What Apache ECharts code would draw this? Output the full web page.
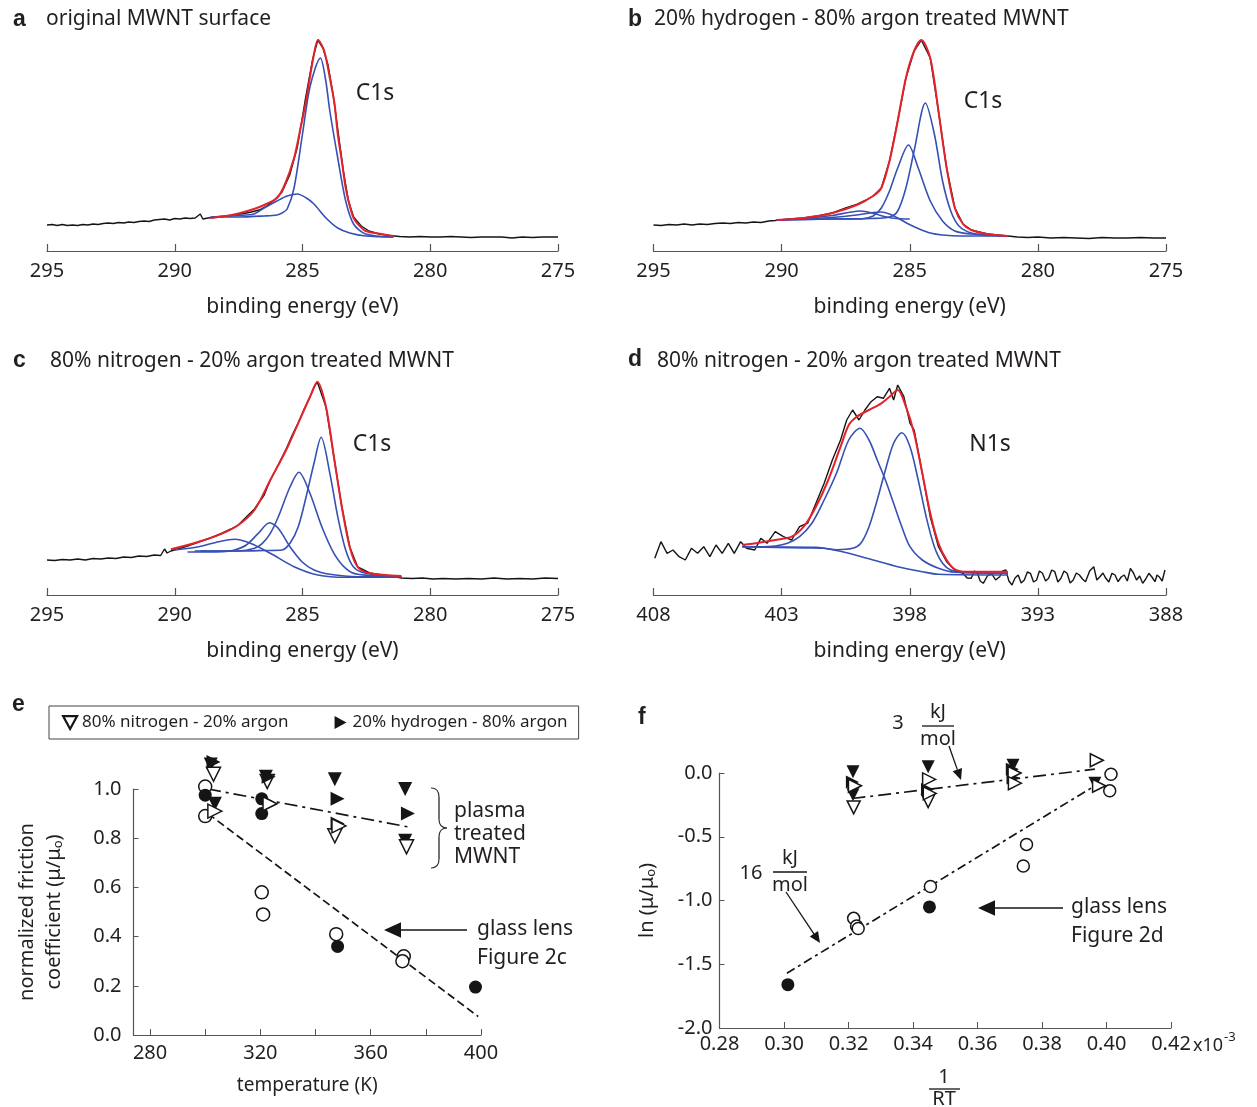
<!DOCTYPE html>
<html>
<head>
<meta charset="utf-8">
<script src="https://cdn.jsdelivr.net/npm/echarts@6/dist/echarts.min.js"></script>
<style>
  html, body { margin: 0; padding: 0; background: #fff; }
  #chart { width: 1257px; height: 1107px; }
</style>
</head>
<body>
<div id="chart"></div>
<script>
// XPS spectra: [binding energy (eV), intensity (a.u.)]
// panel a - original MWNT, C1s
const aBlack = [[295.0,26],[294.8,26.5],[294.6,25.5],[294.4,26.5],[294.2,25.5],[294.0,26],[293.8,25.5],[293.6,26.5],[293.4,26],[293.2,27],[293.0,26.5],[292.8,27.5],[292.6,28],[292.4,27.5],[292.2,28.5],[292.0,28],[291.8,29],[291.6,28.5],[291.4,29.5],[291.2,30],[291.0,29.5],[290.8,31],[290.6,31.5],[290.4,32],[290.2,31],[290.0,32.5],[289.8,32],[289.6,33],[289.4,32.5],[289.2,33],[289.0,37],[288.9,32],[288.7,33],[288.5,33.5],[288.2,34.5],[287.9,35],[287.6,36.5],[287.3,37.5],[287.0,39],[286.7,41],[286.4,45],[286.1,51],[285.8,59],[285.5,76],[285.2,104],[284.9,150],[284.6,192],[284.4,211],[284.2,203],[284.0,186],[283.8,156],[283.6,118],[283.4,80],[283.2,50],[283.0,34],[282.7,25],[282.4,20],[282.0,17],[281.6,15.5],[281.2,14.5],[280.8,14],[280.4,14.5],[280.0,14],[279.6,14],[279.2,14.5],[278.8,14],[278.4,13.5],[278.0,14],[277.6,14],[277.2,14],[276.8,13],[276.4,14],[276.0,13.5],[275.6,14],[275.2,14],[275.0,14]];
const aRed = [[288.6,33],[288.0,35],[287.5,37.5],[286.9,42],[286.5,46],[286.0,53],[285.7,66],[285.33,93],[285.1,120],[284.86,150],[284.6,190],[284.39,211],[284.15,200],[283.93,173],[283.75,148],[283.62,117],[283.45,88],[283.31,63],[283.15,45],[283.0,33],[282.8,26],[282.53,20],[281.9,17],[281.44,15]];
const aBlue1 = [[288.6,34],[287.5,34],[286.5,35],[286.0,36],[285.8,38],[285.6,42],[285.33,63],[285.0,117],[284.7,165],[284.3,193],[284.1,172],[283.93,140],[283.62,93],[283.31,50],[283.0,27],[282.53,17],[281.44,14]];
const aBlue2 = [[288.6,34],[287.5,35.5],[286.9,37],[286.5,43],[286.0,50],[285.6,55],[285.2,57],[284.85,53],[284.55,47],[284.08,33],[283.62,23],[283.15,18],[282.53,15],[281.44,14]];

// panel b - 20% H2 / 80% Ar, C1s
const bBlack = [[295.0,26],[294.7,25.5],[294.4,26.5],[294.1,26],[293.8,27],[293.5,26],[293.2,27],[292.9,26.5],[292.6,27.5],[292.3,28],[292.0,27.5],[291.7,28.5],[291.4,28],[291.1,29],[290.8,28.5],[290.5,30],[290.25,30.5],[289.7,32],[289.14,33],[288.6,35],[288.02,38],[287.5,43],[287.07,46.5],[286.7,51],[286.43,55],[286.11,63],[285.79,90],[285.47,130],[285.15,173],[284.83,200],[284.55,211],[284.2,193],[283.88,140],[283.56,83],[283.24,43],[282.92,27],[282.6,21],[281.97,17],[281.17,15],[280.8,14],[280.4,13.5],[280.0,14],[279.5,13],[279.0,13.5],[278.5,13],[278.0,12.5],[277.5,13.5],[277.0,13],[276.5,13],[276.0,13.5],[275.5,13],[275.0,13]];
const bRed = [[290.2,31],[289.14,33],[288.02,38],[287.07,46],[286.43,55],[286.11,63],[285.79,90],[285.47,130],[285.15,173],[284.83,200],[284.55,211],[284.2,193],[283.88,140],[283.56,83],[283.24,43],[282.92,27],[282.6,21],[281.97,17],[281.17,15]];
const bBlue1 = [[290.2,31],[288.0,32],[286.5,32.5],[285.79,34],[285.47,40],[285.15,63],[284.83,100],[284.39,148],[284.04,117],[283.72,70],[283.4,40],[283.08,25],[282.6,18],[281.97,16],[281.17,15]];
const bBlue2 = [[290.2,31],[288.0,32],[286.91,32],[286.43,35],[286.11,43],[285.79,60],[285.47,83],[285.05,106],[284.67,83],[284.2,50],[283.72,30],[283.24,20],[282.6,17],[281.17,15]];
const bBlue3 = [[290.2,31],[289.14,32.5],[288.02,35.5],[287.4,38.5],[286.9,40],[286.4,37.5],[285.9,34],[285.5,32.5],[285.0,32]];
const bBlue4 = [[290.2,31],[289.14,32],[288.02,33.5],[287.07,36],[286.43,38.5],[286.11,39],[285.79,37],[285.47,33],[285.05,27],[284.67,22.5],[284.2,18],[283.72,16],[283.0,15],[281.17,15]];

// panel c - 80% N2 / 20% Ar, C1s
const cBlack = [[295.0,35],[294.7,34.5],[294.4,35.5],[294.1,35],[293.8,36],[293.5,35],[293.2,36.5],[292.9,36],[292.6,37],[292.3,36.5],[292.0,38],[291.7,37.5],[291.4,39],[291.1,38.5],[290.8,40],[290.55,39.5],[290.4,46],[290.3,42],[290.15,44],[289.5,49],[289.06,53],[288.6,57],[288.13,62],[287.8,66],[287.51,70],[287.2,78],[286.88,86],[286.5,100],[286.26,115],[285.95,130],[285.64,146],[285.4,160],[285.17,172],[284.95,185],[284.71,198],[284.5,210],[284.42,213],[284.08,188],[283.77,138],[283.46,88],[283.15,48],[282.84,28],[282.37,22],[281.9,20],[281.5,19],[281.13,17],[280.7,16.5],[280.3,17],[279.9,16],[279.5,16.5],[279.0,16],[278.5,16.5],[278.0,16],[277.5,17],[277.0,16],[276.5,16.5],[276.0,16],[275.5,17],[275.0,16.5]];
const cRed = [[290.15,45.7],[289.06,53.3],[288.13,61.7],[287.51,70],[286.88,85],[286.26,115],[285.64,145],[285.17,171.7],[284.71,198],[284.42,213.3],[284.08,188],[283.77,138],[283.46,88],[283.15,48],[282.84,28],[282.37,21.7],[281.13,19]];
const cBlue1 = [[289.0,44],[287.5,44],[286.5,44.5],[285.8,45],[285.49,51.7],[285.17,68],[284.86,98],[284.55,131.7],[284.27,157.7],[283.93,121.7],[283.62,78.3],[283.31,45],[283.0,28],[282.53,21.7],[281.13,18.3]];
const cBlue2 = [[289.22,44],[287.51,44],[286.88,46.7],[286.57,51.7],[286.26,61.7],[285.95,78],[285.49,108],[285.14,122.7],[284.71,101.7],[284.24,68],[283.77,41.7],[283.31,26.7],[282.84,20.7],[281.13,18.3]];
const cBlue3 = [[289.5,43],[288.13,43.3],[287.66,45],[287.2,50],[286.73,61.7],[286.29,72.3],[285.95,66.7],[285.49,48.3],[285.02,33.3],[284.55,25],[283.93,20.7],[282.84,18.3],[281.13,18.3]];
const cBlue4 = [[290.0,45],[289.06,48.3],[288.28,53.3],[287.66,55.7],[287.04,51.7],[286.26,41.7],[285.33,28.3],[284.4,20],[283.31,17.7],[281.28,17.7]];

// panel d - 80% N2 / 20% Ar, N1s
const dBlack = [[407.95,36.7],[407.71,53.3],[407.47,41.7],[407.24,45],[407.0,38.3],[406.76,35],[406.52,46.7],[406.28,41.7],[406.04,48.3],[405.8,38.3],[405.56,50],[405.32,41.7],[405.08,51.7],[404.85,41.7],[404.6,53.3],[404.37,46.7],[404.05,45],[403.81,56.7],[403.57,51.7],[403.25,63.3],[402.93,58.3],[402.61,55],[402.3,68.3],[401.98,72],[401.66,91.7],[401.34,111.7],[401.02,135],[400.7,155],[400.46,175],[400.23,185],[399.98,175],[399.75,185],[399.51,193.3],[399.27,198.3],[399.03,196.7],[398.79,206.7],[398.63,195],[398.47,210],[398.23,198.3],[397.99,171.7],[397.83,165],[397.51,121.7],[397.2,78.3],[396.88,48.3],[396.56,33.3],[396.24,25],[395.92,21.7],[395.76,17],[395.6,16.7],[395.48,24],[395.36,21.7],[395.25,14],[395.13,11.7],[394.97,19],[394.81,21.7],[394.65,15],[394.49,18.3],[394.37,24],[394.25,25],[394.13,14],[394.01,10],[393.89,17],[393.77,20],[393.65,12],[393.53,15],[393.41,23],[393.29,21.7],[393.17,13],[393.05,15],[392.94,24],[392.82,21.7],[392.7,14],[392.58,16.7],[392.46,25],[392.34,23.3],[392.22,13],[392.1,16.7],[391.98,24],[391.86,21.7],[391.74,12],[391.62,15],[391.5,22],[391.38,20],[391.26,16],[391.14,13.3],[390.98,24],[390.82,28.3],[390.7,15],[390.58,18.3],[390.46,22],[390.35,16.7],[390.23,13],[390.11,21.7],[389.99,20],[389.87,13.3],[389.75,18],[389.63,20],[389.51,14],[389.39,26.7],[389.27,22],[389.15,15],[389.03,19],[388.91,11.7],[388.79,16],[388.67,21.7],[388.55,18],[388.43,13.3],[388.35,20],[388.27,18.3],[388.15,14],[388.04,25]];
const dRed = [[404.53,50],[403.89,52.3],[403.25,55],[402.61,58.3],[402.14,68.3],[401.66,88.3],[401.18,115],[400.7,148.3],[400.38,170],[400.07,178.3],[399.59,185],[399.11,191.7],[398.79,198.3],[398.47,205],[398.15,188.3],[397.83,161.7],[397.51,121.7],[397.2,81.7],[396.88,51.7],[396.56,35],[396.24,25.7],[395.76,23.3],[394.17,23.3]];
const dBlue1 = [[404.53,48.3],[403.89,48.3],[403.25,49],[402.77,51.7],[402.3,58.3],[401.82,71.7],[401.34,95],[400.86,121.7],[400.38,155],[399.94,166.7],[399.59,155],[399.27,135],[398.95,115],[398.63,91.7],[398.31,68.3],[397.99,48.3],[397.51,35],[396.88,26.7],[396.24,22.7],[394.17,21.7]];
const dBlue2 = [[404.53,48.3],[402.14,47],[401.34,46.7],[400.86,45.3],[400.23,46.7],[399.91,51.7],[399.59,68.3],[399.27,95],[398.95,125],[398.63,151.7],[398.31,162.3],[397.99,148.3],[397.67,115],[397.36,78.3],[397.04,48.3],[396.72,31.7],[396.4,25],[395.92,22.7],[394.17,21.7]];
const dBack = [[404.53,48.3],[401.66,47.7],[401.02,45.3],[400.38,41.7],[399.43,35],[398.47,28.3],[397.51,23.3],[396.88,20.7],[394.17,20]];

// panel e: [temperature (K), normalized friction coefficient]
const eGlassOpen = [[300,1.01],[300,0.89],[320.5,0.58],[321,0.49],[347.5,0.41],[372,0.32],[371.5,0.30]];
const eGlassFilled = [[300,0.975],[320.5,0.96],[320.5,0.90],[348,0.36],[398,0.195]];
const eN2Filled = [[302,1.10],[322,1.05],[347,1.04],[372.5,1.00],[303.5,0.94],[372.5,0.79]];
const eN2Open = [[303,1.06],[322.5,1.03],[347,0.81],[373,0.765]];
const eH2Filled = [[303,1.11],[323,1.05],[348,0.96],[348,0.86],[373.5,0.90]];
const eH2Open = [[303.5,0.91],[323.5,0.94],[348.5,0.85]];
const ePlasmaFit = [[301,1.0],[374,0.845]];
const eGlassFit = [[301,0.90],[399,0.075]];
const eTicks = [280,300,320,340,360,380,400];
const eLabels = [280,320,360,400];

// panel f: [1/RT (x10^-3 mol/J), ln(mu/mu0)]
const fGlassOpen = [[0.3216,-1.14],[0.3225,-1.20],[0.3230,-1.22],[0.3454,-0.89],[0.3752,-0.56],[0.3742,-0.73],[0.4014,-0.01],[0.4010,-0.14]];
const fGlassFilled = [[0.3012,-1.66],[0.3451,-1.05]];
const fN2Filled = [[0.3214,0.01],[0.3214,-0.17],[0.3447,0.05],[0.3710,0.06],[0.3964,-0.08]];
const fN2Open = [[0.3216,-0.27],[0.3447,-0.22]];
const fH2Filled = [[0.3212,-0.07],[0.3445,-0.13],[0.3710,-0.04],[0.3708,0.03]];
const fH2Open = [[0.3220,-0.10],[0.3450,-0.05],[0.3452,-0.16],[0.3715,0.00],[0.3716,-0.08],[0.3970,0.10],[0.3977,-0.10]];
const fPlasmaFit = [[0.3212,-0.20],[0.3964,0.03]];
const fGlassFit = [[0.3009,-1.57],[0.3964,-0.10]];
const fTicks = [0.28,0.30,0.32,0.34,0.36,0.38,0.40,0.42];

const FONT = "'Noto Sans', 'DejaVu Sans', sans-serif";
const INK = '#231f20';
const AXIS = '#555';
const RED = '#e4222a';
const BLUE = '#3650b4';
const BLACK = '#151515';

// the four spectra panels
const spectra = [
    { grid: { left: 47, top: 31, width: 511, height: 220 }, min: 275, max: 295, ticks: [275,280,285,290,295], black: aBlack, blue: [aBlue1, aBlue2], red: aRed },
    { grid: { left: 653.5, top: 31, width: 512.5, height: 220 }, min: 275, max: 295, ticks: [275,280,285,290,295], black: bBlack, blue: [bBlue1, bBlue2, bBlue3, bBlue4], red: bRed },
    { grid: { left: 47, top: 375, width: 511, height: 220 }, min: 275, max: 295, ticks: [275,280,285,290,295], black: cBlack, blue: [cBlue1, cBlue2, cBlue3, cBlue4], red: cRed },
    { grid: { left: 653.5, top: 375, width: 512.5, height: 220 }, min: 388, max: 408, ticks: [388,393,398,403,408], black: dBlack, blue: [dBlue1, dBlue2, dBack], red: dRed }
];

const grids = [];
const xAxes = [];
const yAxes = [];
const series = [];

function lineOf(idx, data, color, width, smooth, z) {
    return {
        type: 'line', xAxisIndex: idx, yAxisIndex: idx, data: data,
        symbol: 'none', smooth: smooth, clip: false, silent: true, z: z,
        lineStyle: { color: color, width: width }
    };
}

spectra.forEach(function (p, i) {
    grids.push(p.grid);
    xAxes.push({
        gridIndex: i, type: 'value', inverse: true, min: p.min, max: p.max,
        axisLine: { onZero: false, lineStyle: { color: AXIS, width: 1.2 } },
        axisTick: { inside: true, length: 7, customValues: p.ticks, lineStyle: { color: AXIS, width: 1.2 } },
        axisLabel: { customValues: p.ticks, fontSize: 20, color: INK, fontFamily: FONT, margin: 10 },
        splitLine: { show: false },
        name: 'binding energy (eV)', nameLocation: 'middle', nameGap: 46,
        nameTextStyle: { fontSize: 21, color: INK, fontFamily: FONT }
    });
    yAxes.push({ gridIndex: i, type: 'value', min: 0, max: 220, show: false });
    series.push(lineOf(i, p.black, BLACK, 1.4, false, 2));
    p.blue.forEach(function (b) { series.push(lineOf(i, b, BLUE, 1.6, 0.3, 3)); });
    series.push(lineOf(i, p.red, RED, 2, 0.3, 4));
});

// panel e: friction vs temperature
grids.push({ left: 133.5, top: 789, width: 347.5, height: 246 });
xAxes.push({
    gridIndex: 4, type: 'value', min: 274, max: 400,
    axisLine: { onZero: false, lineStyle: { color: AXIS, width: 1.2 } },
    axisTick: { inside: true, length: 6, customValues: eTicks, lineStyle: { color: AXIS } },
    axisLabel: { customValues: eLabels, fontSize: 20, color: INK, fontFamily: FONT, margin: 8 },
    splitLine: { show: false },
    name: 'temperature (K)', nameLocation: 'middle', nameGap: 41,
    nameTextStyle: { fontSize: 19, color: INK, fontFamily: FONT }
});
yAxes.push({
    gridIndex: 4, type: 'value', min: 0, max: 1.0, interval: 0.2,
    axisLine: { show: true, onZero: false, lineStyle: { color: AXIS, width: 1.2 } },
    axisTick: { show: true, inside: true, length: 5, lineStyle: { color: AXIS } },
    axisLabel: { fontSize: 20, color: INK, fontFamily: FONT, margin: 12, formatter: function (v) { return v.toFixed(1); } },
    splitLine: { show: false },
    name: 'normalized friction\ncoefficient (\u03bc/\u03bc\u2092)', nameLocation: 'middle', nameGap: 66,
    nameTextStyle: { fontSize: 20, lineHeight: 27, color: INK, fontFamily: FONT }
});

// panel f: Arrhenius plot
grids.push({ left: 719.5, top: 773, width: 451.5, height: 255 });
xAxes.push({
    gridIndex: 5, type: 'value', min: 0.28, max: 0.42,
    axisLine: { onZero: false, lineStyle: { color: AXIS, width: 1.2 } },
    axisTick: { inside: true, length: 6, customValues: fTicks, lineStyle: { color: AXIS } },
    axisLabel: { customValues: fTicks, fontSize: 20, color: INK, fontFamily: FONT, margin: 6, formatter: function (v) { return v.toFixed(2); } },
    splitLine: { show: false }
});
yAxes.push({
    gridIndex: 5, type: 'value', min: -2.0, max: 0.0, interval: 0.5,
    axisLine: { show: true, onZero: false, lineStyle: { color: AXIS, width: 1.2 } },
    axisTick: { show: true, inside: true, length: 5, lineStyle: { color: AXIS } },
    axisLabel: { fontSize: 20, color: INK, fontFamily: FONT, margin: 7, formatter: function (v) { return v.toFixed(1); } },
    splitLine: { show: false },
    name: 'ln (\u03bc/\u03bc\u2092)', nameLocation: 'middle', nameGap: 62,
    nameTextStyle: { fontSize: 20, color: INK, fontFamily: FONT }
});

const N2_NAME = '80% nitrogen - 20% argon';
const H2_NAME = '20% hydrogen - 80% argon';

function scat(idx, name, data, symbol, rotate, open, size) {
    return {
        type: 'scatter', name: name, xAxisIndex: idx, yAxisIndex: idx, data: data,
        symbol: symbol, symbolRotate: rotate, symbolSize: size, clip: false, silent: true, z: 6,
        itemStyle: open ? { color: '#fff', borderColor: BLACK, borderWidth: 1.5, opacity: 1 } : { color: BLACK, opacity: 1 }
    };
}
function fit(idx, data, dash) {
    return {
        type: 'line', xAxisIndex: idx, yAxisIndex: idx, data: data, symbol: 'none', clip: false, silent: true, z: 3,
        lineStyle: { color: BLACK, width: 1.7, type: dash }
    };
}

series.push(fit(4, ePlasmaFit, [13, 5, 3, 5]));
series.push(fit(4, eGlassFit, [8, 4]));
series.push(scat(4, 'glass open e', eGlassOpen, 'circle', 0, true, 13));
series.push(scat(4, 'glass filled e', eGlassFilled, 'circle', 0, false, 13));
series.push(scat(4, N2_NAME, eN2Filled, 'triangle', 180, false, 14));
series.push(scat(4, 'n2 open e', eN2Open, 'triangle', 180, true, 14));
series.push(scat(4, H2_NAME, eH2Filled, 'triangle', -90, false, 14));
series.push(scat(4, 'h2 open e', eH2Open, 'triangle', -90, true, 14));

series.push(fit(5, fPlasmaFit, [13, 5, 3, 5]));
series.push(fit(5, fGlassFit, [9, 4, 3, 4]));
series.push(scat(5, 'glass open f', fGlassOpen, 'circle', 0, true, 12));
series.push(scat(5, 'glass filled f', fGlassFilled, 'circle', 0, false, 13));
series.push(scat(5, 'n2 filled f', fN2Filled, 'triangle', 180, false, 13));
series.push(scat(5, 'n2 open f', fN2Open, 'triangle', 180, true, 13));
series.push(scat(5, 'h2 filled f', fH2Filled, 'triangle', -90, false, 13));
series.push(scat(5, 'h2 open f', fH2Open, 'triangle', -90, true, 13));

// text / arrow helpers for annotations
function txt(x, y, s, size, align, weight, family) {
    return {
        type: 'text', x: x, y: y, silent: true, z: 10,
        style: { text: s, fontSize: size, fontWeight: weight || 'normal', fontFamily: family || FONT, fill: INK, align: align || 'left', verticalAlign: 'middle' }
    };
}
function seg(x1, y1, x2, y2, w) {
    return { type: 'line', silent: true, z: 10, shape: { x1: x1, y1: y1, x2: x2, y2: y2 }, style: { stroke: BLACK, lineWidth: w || 1.3 } };
}
function arrow(x1, y1, x2, y2, head, w) {
    const a = Math.atan2(y2 - y1, x2 - x1);
    const hw = head * 0.45;
    const bx = x2 - head * Math.cos(a), by = y2 - head * Math.sin(a);
    return [
        seg(x1, y1, bx, by, w),
        { type: 'polygon', silent: true, z: 10, shape: { points: [[x2, y2], [bx + hw * Math.sin(a), by - hw * Math.cos(a)], [bx - hw * Math.sin(a), by + hw * Math.cos(a)]] }, style: { fill: BLACK } }
    ];
}
function curve(x1, y1, cx, cy, x2, y2) {
    return { type: 'bezierCurve', silent: true, z: 10, shape: { x1: x1, y1: y1, cpx1: cx, cpy1: cy, x2: x2, y2: y2 }, style: { stroke: '#333', lineWidth: 1.2, fill: null } };
}

const LETTER = "'Liberation Sans', Arial, sans-serif";
const graphic = [
    txt(13, 20, 'a', 23, 'left', 'bold', LETTER),
    txt(46, 19, 'original MWNT surface', 21),
    txt(628, 20, 'b', 23, 'left', 'bold', LETTER),
    txt(654, 19, '20% hydrogen - 80% argon treated MWNT', 21),
    txt(13, 361, 'c', 23, 'left', 'bold', LETTER),
    txt(50, 361, '80% nitrogen - 20% argon treated MWNT', 21),
    txt(628, 360, 'd', 23, 'left', 'bold', LETTER),
    txt(657, 361, '80% nitrogen - 20% argon treated MWNT', 21),
    txt(375, 93, 'C1s', 23, 'center'),
    txt(983, 101, 'C1s', 23, 'center'),
    txt(372, 444, 'C1s', 23, 'center'),
    txt(990, 444, 'N1s', 23, 'center'),

    // panel e annotations
    txt(12, 705, 'e', 23, 'left', 'bold', LETTER),
    txt(454, 811, 'plasma', 21),
    txt(454, 834, 'treated', 21),
    txt(454, 857, 'MWNT', 21),
    curve(431, 788, 439, 788, 439, 797),
    seg(439, 797, 439, 819, 1.2),
    curve(439, 819, 439, 828, 447, 828),
    curve(447, 828, 439, 828, 439, 837),
    seg(439, 837, 439, 859, 1.2),
    curve(439, 859, 439, 868, 431, 868),
    txt(477, 929, 'glass lens', 21),
    txt(477, 958, 'Figure 2c', 21),
    ...arrow(467, 930, 384, 930, 17, 1.6),

    // panel f annotations
    txt(638, 718, 'f', 23, 'left', 'bold', LETTER),
    txt(898, 723, '3', 20, 'center'),
    txt(938, 712, 'kJ', 20, 'center'),
    seg(922, 726, 954, 726, 1.3),
    txt(938, 739, 'mol', 20, 'center'),
    ...arrow(949, 746, 961, 780, 11, 1.3),
    txt(751, 873, '16', 20, 'center'),
    txt(790, 858, 'kJ', 20, 'center'),
    seg(773, 872, 807, 872, 1.3),
    txt(790, 885, 'mol', 20, 'center'),
    ...arrow(786, 892, 820, 943, 11, 1.3),
    txt(1071, 907, 'glass lens', 21),
    txt(1071, 936, 'Figure 2d', 21),
    ...arrow(1063, 908, 978, 908, 17, 1.6),
    txt(944, 1077, '1', 20, 'center'),
    seg(929, 1089, 960, 1089, 1.3),
    txt(944, 1099, 'RT', 20, 'center'),
    txt(1193, 1046, 'x10', 18),
    txt(1224, 1037, '-3', 13)
];

const chart = echarts.init(document.getElementById('chart'));
chart.setOption({
    animation: false,
    backgroundColor: '#fff',
    textStyle: { fontFamily: FONT },
    grid: grids,
    xAxis: xAxes,
    yAxis: yAxes,
    legend: {
        left: 49, top: 706, orient: 'horizontal', selectedMode: false,
        borderColor: '#444', borderWidth: 1, padding: [8, 11, 8, 13], itemGap: 46,
        itemWidth: 14, itemHeight: 13,
        textStyle: { fontSize: 17, color: INK, fontFamily: FONT },
        data: [
            { name: N2_NAME, icon: 'path://M0,0 L12,0 L6,11 Z', itemStyle: { color: '#fff', borderColor: BLACK, borderWidth: 2.2 } },
            { name: H2_NAME, icon: 'path://M0,0 L11,6 L0,12 Z', itemStyle: { color: BLACK } }
        ]
    },
    series: series,
    graphic: graphic
});
</script>
</body>
</html>
